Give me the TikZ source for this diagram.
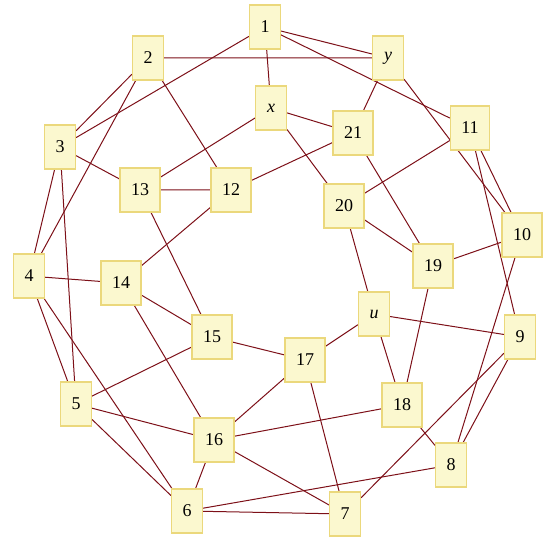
\documentclass[tikz,border=0pt]{standalone}
\usepackage{fontspec}
\setmainfont{Liberation Serif}
\usepackage{tikz}
\usetikzlibrary{backgrounds}
\definecolor{vfill}{HTML}{FBF8CF}
\definecolor{vborder}{HTML}{EBD87C}
\definecolor{linkred}{HTML}{7D1018}
\tikzset{
  vbox/.style={draw=vborder, fill=vfill, line width=1.1pt, rectangle,
    minimum width=31pt, minimum height=44pt, inner xsep=11pt,
    font=\fontsize{18}{20}\selectfont},
  link/.style={draw=linkred, line width=1pt}
}

\begin{document}
\begin{tikzpicture}[x=1pt, y=-1pt]
        \useasboundingbox (0,0) rectangle (543,537);
        \node[vbox] (n1) at (265,27) {1};
        \node[vbox] (n2) at (148,58) {2};
        \node[vbox] (ny) at (388,58) {\textit{y}};
        \node[vbox] (nx) at (271,108) {\textit{x}};
        \node[vbox] (n21) at (353,133) {21};
        \node[vbox] (n11) at (470,128) {11};
        \node[vbox] (n3) at (60,147) {3};
        \node[vbox] (n13) at (140,190) {13};
        \node[vbox] (n12) at (231,190) {12};
        \node[vbox] (n20) at (344,206) {20};
        \node[vbox] (n10) at (522,235) {10};
        \node[vbox] (n19) at (433,266) {19};
        \node[vbox] (n4) at (29,276) {4};
        \node[vbox] (n14) at (121,283) {14};
        \node[vbox] (n15) at (212,337) {15};
        \node[vbox] (nu) at (374,314) {\textit{u}};
        \node[vbox] (n9) at (520,337) {9};
        \node[vbox] (n17) at (305,360) {17};
        \node[vbox] (n5) at (76,404) {5};
        \node[vbox] (n18) at (402,405) {18};
        \node[vbox] (n16) at (214,440) {16};
        \node[vbox] (n8) at (451,465) {8};
        \node[vbox] (n6) at (187,511) {6};
        \node[vbox] (n7) at (345,514) {7};
        % edges behind the boxes
        \begin{scope}[on background layer]
          \draw[link] (n1) -- (nx) (n1) -- (ny) (n1) -- (n11) (n1) -- (n3);
          \draw[link] (n2) -- (ny) (n2) -- (n3) (n2) -- (n4) (n2) -- (n12);
          \draw[link] (ny) -- (n21) (ny) -- (n10);
          \draw[link] (nx) -- (n13) (nx) -- (n21) (nx) -- (n20);
          \draw[link] (n21) -- (n12) (n21) -- (n19);
          \draw[link] (n11) -- (n20) (n11) -- (n10) (n11) -- (n9);
          \draw[link] (n3) -- (n13) (n3) -- (n4) (n3) -- (n5);
          \draw[link] (n13) -- (n12) (n13) -- (n15);
          \draw[link] (n12) -- (n14);
          \draw[link] (n20) -- (n19) (n20) -- (nu);
          \draw[link] (n10) -- (n19) (n10) -- (n8);
          \draw[link] (n19) -- (n18);
          \draw[link] (n4) -- (n14) (n4) -- (n5) (n4) -- (n6);
          \draw[link] (n14) -- (n15) (n14) -- (n16);
          \draw[link] (n15) -- (n17) (n15) -- (n5);
          \draw[link] (nu) -- (n17) (nu) -- (n9) (nu) -- (n18);
          \draw[link] (n9) -- (n8) (n9) -- (n7);
          \draw[link] (n17) -- (n16) (n17) -- (n7);
          \draw[link] (n5) -- (n16) (n5) -- (n6);
          \draw[link] (n18) -- (n16) (n18) -- (n8);
          \draw[link] (n16) -- (n6) (n16) -- (n7);
          \draw[link] (n8) -- (n6) (n6) -- (n7);
        \end{scope}
      \end{tikzpicture}
\end{document}
